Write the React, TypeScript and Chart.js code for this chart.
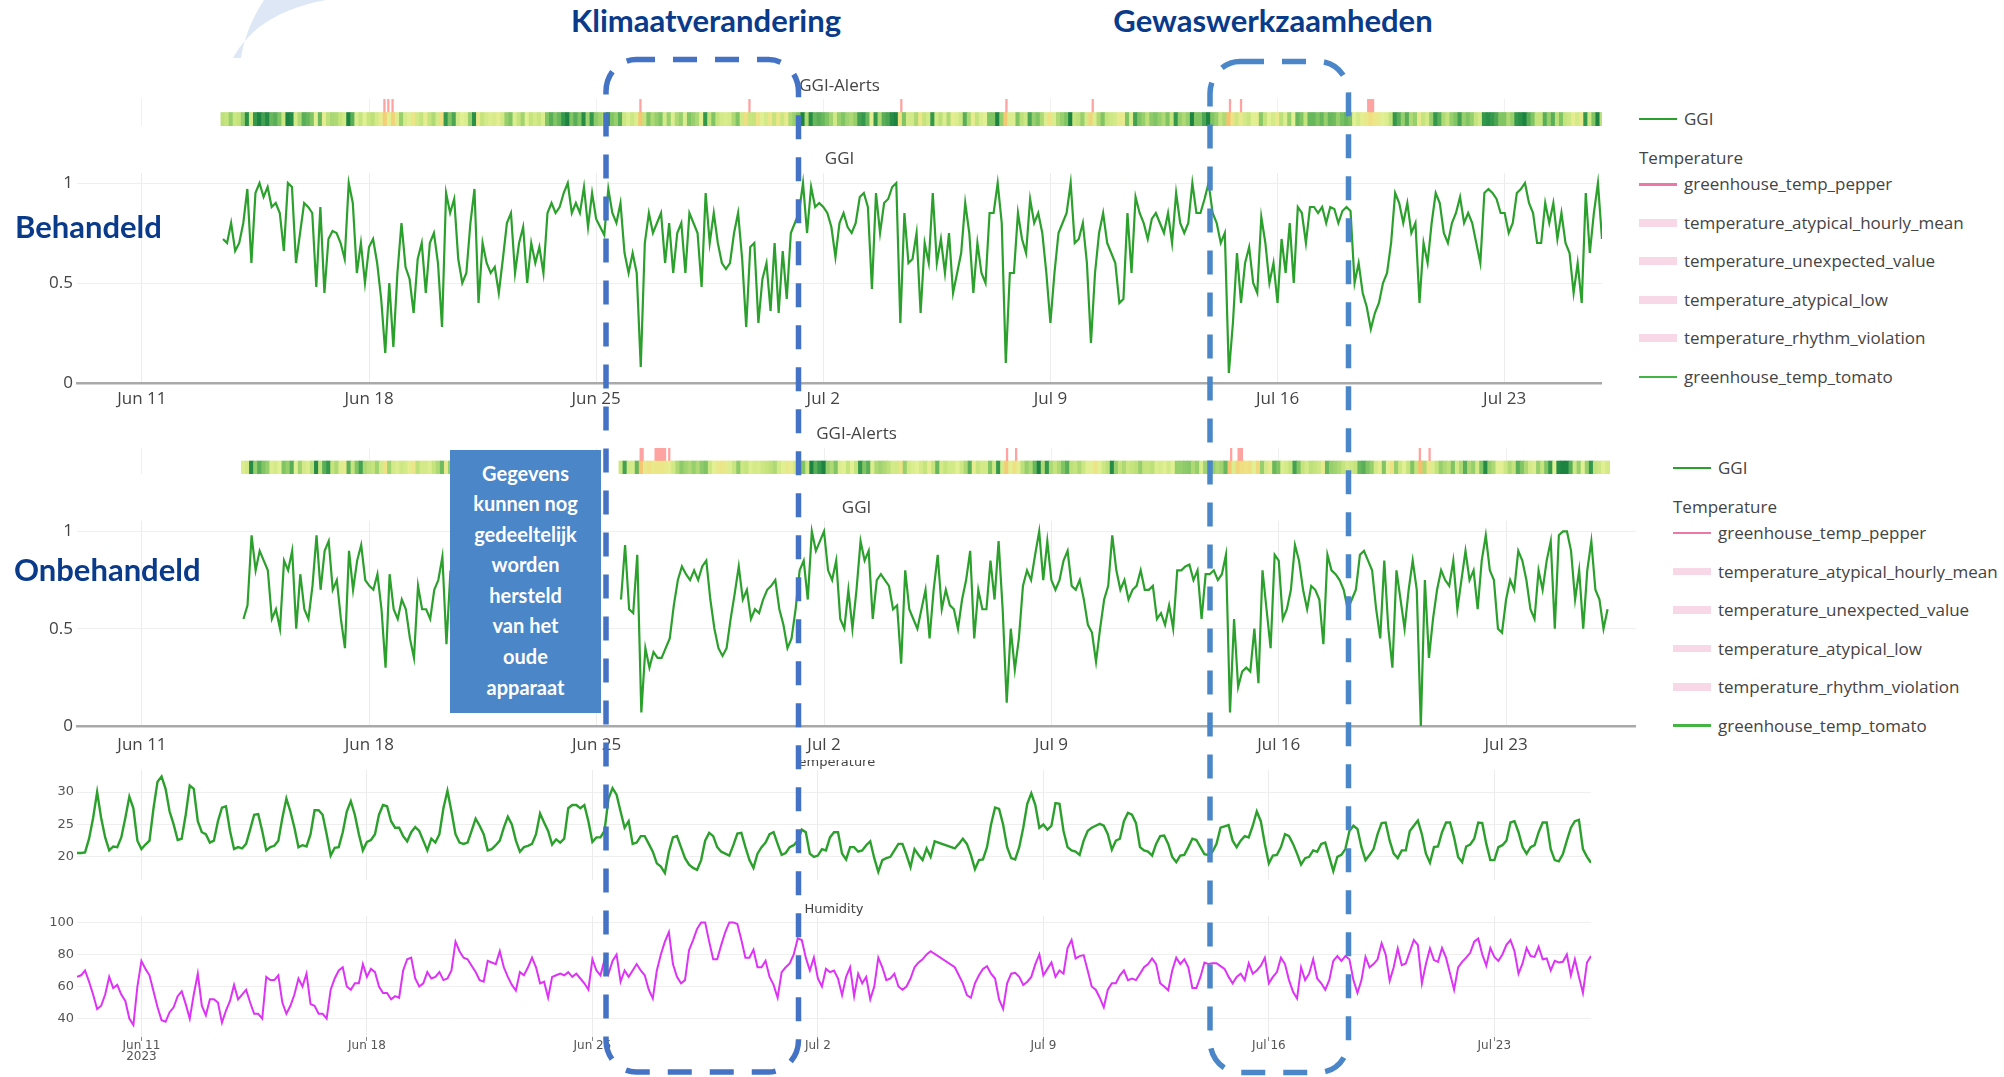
import React, { useEffect, useRef } from "react";
import { Chart, registerables } from "chart.js";

Chart.register(...registerables);

// ---------- axis definitions ----------
const STEP = 0.125; // 3 hours, expressed in days since Jun 11 2023 00:00
const TICK_DAYS = [0, 7, 14, 21, 28, 35, 42];
const TICK_LABELS = ["Jun 11", "Jun 18", "Jun 25", "Jul 2", "Jul 9", "Jul 16", "Jul 23"];
const YEAR_LABEL = "2023";
const GGI_TICKS = [0, 0.5, 1];
const GGI_TICK_LABELS = ["0", "0.5", "1"];
const TEMP_TICKS = [20, 25, 30];
const HUM_TICKS = [40, 60, 80, 100];

// ---------- GGI, treated greenhouse (Behandeld) ----------
const GGI_TOP_START = 2.5;
const GGI_TOP = [
  0.72, 0.7, 0.8, 0.66,
  0.7, 0.8, 0.97, 0.6, 0.95, 1.0, 0.93, 0.98,
  0.88, 0.9, 0.85, 0.66, 1.0, 0.98, 0.6, 0.75,
  0.9, 0.88, 0.85, 0.48, 0.88, 0.45, 0.72, 0.76,
  0.75, 0.7, 0.62, 1.0, 0.9, 0.55, 0.7, 0.5,
  0.68, 0.72, 0.6, 0.42, 0.15, 0.5, 0.18, 0.55,
  0.8, 0.58, 0.52, 0.35, 0.62, 0.7, 0.45, 0.7,
  0.75, 0.6, 0.28, 0.95, 0.85, 0.92, 0.62, 0.5,
  0.55, 0.8, 0.97, 0.4, 0.7, 0.6, 0.55, 0.58,
  0.45, 0.62, 0.8, 0.85, 0.55, 0.7, 0.78, 0.5,
  0.7, 0.6, 0.68, 0.55, 0.85, 0.9, 0.85, 0.88,
  0.95, 1.0, 0.85, 0.9, 0.85, 0.98, 0.78, 0.95,
  0.82, 0.78, 0.74, 0.97, 0.85, 0.8, 0.9, 0.65,
  0.55, 0.65, 0.55, 0.08, 0.7, 0.85, 0.75, 0.8,
  0.85, 0.6, 0.8, 0.55, 0.75, 0.8, 0.55, 0.85,
  0.8, 0.75, 0.48, 0.95, 0.7, 0.85, 0.7, 0.6,
  0.57, 0.6, 0.75, 0.85, 0.62, 0.28, 0.68, 0.7,
  0.3, 0.52, 0.6, 0.36, 0.7, 0.35, 0.66, 0.42,
  0.75, 0.8, 0.85, 1.0, 0.75, 0.98, 0.88, 0.9,
  0.88, 0.85, 0.78, 0.63, 0.8, 0.85, 0.78, 0.75,
  0.8, 0.93, 0.95, 0.88, 0.47, 0.95, 0.75, 0.9,
  0.92, 0.98, 1.0, 0.3, 0.85, 0.6, 0.62, 0.75,
  0.35, 0.7, 0.6, 0.95, 0.6, 0.72, 0.55, 0.75,
  0.45, 0.55, 0.65, 0.9, 0.75, 0.45, 0.7, 0.55,
  0.5, 0.85, 0.85, 1.0, 0.8, 0.1, 0.55, 0.55,
  0.85, 0.72, 0.65, 0.92, 0.8, 0.85, 0.75, 0.55,
  0.3, 0.55, 0.75, 0.8, 0.85, 1.0, 0.7, 0.72,
  0.8, 0.6, 0.2, 0.55, 0.75, 0.85, 0.7, 0.65,
  0.6, 0.4, 0.42, 0.85, 0.55, 0.93, 0.85, 0.8,
  0.72, 0.82, 0.85, 0.8, 0.75, 0.85, 0.7, 0.95,
  0.8, 0.75, 0.8, 1.0, 0.85, 0.85, 0.92, 1.0,
  0.85, 0.8, 0.7, 0.75, 0.05, 0.3, 0.65, 0.4,
  0.6, 0.68, 0.5, 0.45, 0.83, 0.7, 0.5, 0.6,
  0.4, 0.72, 0.55, 0.8, 0.5, 0.88, 0.85, 0.7,
  0.88, 0.88, 0.85, 0.88, 0.8, 0.88, 0.87, 0.8,
  0.86, 0.88, 0.86, 0.5, 0.6, 0.45, 0.38, 0.27,
  0.35, 0.4, 0.5, 0.55, 0.7, 0.95, 0.9, 0.8,
  0.9, 0.75, 0.8, 0.4, 0.7, 0.6, 0.8, 0.95,
  0.9, 0.75, 0.7, 0.8, 0.85, 0.93, 0.8, 0.85,
  0.8, 0.7, 0.6, 0.95, 0.97, 0.95, 0.92, 0.85,
  0.85, 0.75, 0.8, 0.95, 0.97, 1.0, 0.9, 0.85,
  0.7, 0.7, 0.9, 0.8, 0.9, 0.72, 0.85, 0.7,
  0.65, 0.45, 0.6, 0.4, 0.95, 0.65, 0.85, 1.0,
  0.72,
];

// ---------- GGI, untreated greenhouse (Onbehandeld), two recorded segments ----------
const GGI_BOT_A_START = 3.125;
const GGI_BOT_A = [
  0.55, 0.62, 0.98, 0.8, 0.9, 0.85, 0.8,
  0.55, 0.6, 0.5, 0.85, 0.8, 0.9, 0.5, 0.78,
  0.6, 0.55, 0.72, 0.98, 0.7, 0.9, 0.95, 0.7,
  0.75, 0.55, 0.4, 0.9, 0.7, 0.85, 0.93, 0.75,
  0.72, 0.7, 0.78, 0.6, 0.3, 0.78, 0.6, 0.55,
  0.65, 0.6, 0.45, 0.35, 0.72, 0.6, 0.6, 0.55,
  0.7, 0.75, 0.87, 0.42, 0.8,
];
const GGI_BOT_B_START = 14.75;
const GGI_BOT_B = [
  0.65, 0.93,
  0.6, 0.58, 0.88, 0.07, 0.4, 0.3, 0.38, 0.35,
  0.35, 0.4, 0.45, 0.62, 0.75, 0.82, 0.78, 0.75,
  0.8, 0.75, 0.82, 0.85, 0.65, 0.5, 0.4, 0.36,
  0.4, 0.55, 0.68, 0.82, 0.65, 0.7, 0.55, 0.6,
  0.58, 0.65, 0.7, 0.72, 0.75, 0.6, 0.52, 0.4,
  0.45, 0.6, 0.8, 0.85, 0.65, 1.0, 0.9, 0.95,
  1.0, 0.8, 0.75, 0.85, 0.55, 0.5, 0.7, 0.5,
  0.7, 0.95, 0.85, 0.9, 0.55, 0.75, 0.78, 0.75,
  0.72, 0.6, 0.62, 0.32, 0.8, 0.6, 0.55, 0.5,
  0.6, 0.7, 0.45, 0.7, 0.88, 0.6, 0.7, 0.62,
  0.6, 0.5, 0.65, 0.75, 0.9, 0.45, 0.7, 0.6,
  0.6, 0.85, 0.65, 0.95, 0.6, 0.12, 0.5, 0.29,
  0.45, 0.72, 0.8, 0.75, 0.88, 1.0, 0.75, 0.95,
  0.75, 0.7, 0.75, 0.85, 0.9, 0.72, 0.7, 0.75,
  0.65, 0.52, 0.48, 0.33, 0.5, 0.65, 0.72, 0.98,
  0.8, 0.7, 0.75, 0.65, 0.7, 0.72, 0.8, 0.7,
  0.7, 0.72, 0.55, 0.58, 0.52, 0.62, 0.5, 0.8,
  0.8, 0.82, 0.83, 0.75, 0.8, 0.55, 0.78, 0.78,
  0.8, 0.75, 0.78, 0.88, 0.07, 0.55, 0.2, 0.28,
  0.3, 0.28, 0.5, 0.22, 0.8, 0.6, 0.4, 0.88,
  0.85, 0.55, 0.6, 0.7, 0.93, 0.85, 0.7, 0.6,
  0.72, 0.7, 0.65, 0.42, 0.88, 0.8, 0.78, 0.75,
  0.7, 0.6, 0.65, 0.7, 0.88, 0.9, 0.85, 0.8,
  0.6, 0.45, 0.85, 0.5, 0.3, 0.8, 0.65, 0.5,
  0.7, 0.85, 0.7, 0.0, 0.75, 0.35, 0.55, 0.7,
  0.8, 0.75, 0.72, 0.85, 0.6, 0.75, 0.9, 0.75,
  0.8, 0.6, 0.85, 0.98, 0.8, 0.75, 0.5, 0.48,
  0.65, 0.75, 0.7, 0.9, 0.85, 0.75, 0.6, 0.55,
  0.8, 0.7, 0.85, 0.95, 0.5, 0.98, 1.0, 1.0,
  0.9, 0.65, 0.8, 0.5, 0.8, 0.95, 0.7, 0.65,
  0.5, 0.6,
];

// ---------- climate ----------
const CLIMATE_START = -2;
const TEMPERATURE = [
  20.6, 20.6, 20.7, 22.8, 26.0, 30.0, 26.0, 23.0,
  21.0, 21.6, 21.5, 23.0, 26.0, 29.3, 27.5, 22.5,
  21.2, 21.9, 22.5, 27.5, 31.6, 32.4, 30.5, 27.0,
  25.0, 22.6, 22.8, 26.5, 31.0, 30.5, 25.5, 23.8,
  23.5, 22.2, 22.5, 25.5, 27.6, 27.8, 24.0, 21.2,
  21.5, 21.3, 22.0, 24.2, 26.5, 26.6, 24.0, 21.0,
  21.5, 21.7, 22.5, 26.0, 29.0, 27.0, 24.5, 21.5,
  21.8, 21.6, 23.5, 27.2, 27.2, 26.5, 23.5, 20.2,
  21.4, 21.5, 23.8, 27.0, 28.6, 26.5, 23.5, 21.0,
  22.3, 22.6, 23.5, 26.5, 28.0, 27.8, 25.5, 24.5,
  24.5, 23.2, 22.4, 23.8, 24.6, 24.0, 22.5, 21.0,
  22.8, 22.2, 23.5, 27.5, 30.2, 27.0, 23.5, 22.2,
  22.0, 22.2, 24.0, 25.9, 24.8, 23.5, 21.0, 21.2,
  21.8, 22.5, 24.5, 26.2, 25.0, 22.5, 20.8, 21.5,
  21.7, 22.0, 23.5, 26.7, 25.3, 24.0, 21.9, 22.7,
  22.2, 22.8, 27.5, 28.0, 28.0, 27.5, 28.0, 25.5,
  22.3, 23.0, 23.0, 24.0, 29.0, 30.6, 29.6, 27.0,
  24.5, 25.5, 22.0, 22.2, 23.2, 23.2, 22.0, 20.8,
  19.0, 18.5, 17.5, 20.8, 23.0, 23.2, 21.5, 19.8,
  18.8, 18.3, 18.0, 19.5, 22.5, 23.7, 23.2, 21.5,
  20.8, 20.5, 20.2, 21.8, 23.6, 23.7, 21.5, 19.5,
  18.3, 20.5, 21.5, 22.2, 23.5, 23.8, 22.0, 20.3,
  20.6, 21.5, 21.8, 22.5, 24.2, 23.8, 20.5, 20.0,
  20.2, 21.2, 21.0, 23.0, 23.8, 23.8, 20.5, 19.6,
  21.5, 21.5, 20.8, 21.0, 21.8, 22.4, 19.8, 17.7,
  19.5, 19.8, 20.0, 21.0, 22.0, 22.0, 20.3, 18.4,
  21.2, 20.3, 19.5, 21.3, 20.0, 22.4, null, null,
  null, null, 21.3, 22.0, 22.8, 22.0, 20.3, 18.1,
  19.5, 19.6, 21.5, 25.0, 27.6, 27.4, 25.0, 21.5,
  19.8, 19.6, 21.5, 24.5, 28.2, 29.8, 28.0, 24.5,
  25.0, 24.2, 24.8, 28.3, 28.2, 24.0, 21.5, 21.0,
  20.8, 20.3, 22.5, 24.0, 24.5, 24.8, 25.1, 24.8,
  23.5, 21.1, 22.5, 22.8, 25.5, 26.8, 26.5, 25.2,
  21.5, 21.0, 20.8, 20.2, 22.0, 23.2, 23.3, 22.0,
  20.0, 19.2, 20.2, 20.3, 21.5, 22.8, 22.6, 21.5,
  20.4, 20.3, 20.8, 22.0, 24.5, 24.7, 24.9, 22.5,
  21.5, 22.5, 23.2, 23.0, 24.8, 27.0, 25.5, 22.0,
  19.0, 20.2, 20.3, 21.5, 23.5, 23.2, 22.0, 20.5,
  18.8, 19.8, 20.0, 21.0, 20.8, 22.0, 22.2, 20.0,
  17.8, 20.0, 20.3, 21.2, 24.0, 24.8, 24.3, 21.5,
  19.5, 20.3, 21.2, 23.5, 25.2, 25.3, 22.5, 20.5,
  19.8, 21.0, 21.0, 24.0, 24.8, 25.6, 23.5, 20.5,
  19.1, 21.5, 21.6, 23.8, 25.3, 25.3, 23.0, 20.0,
  19.2, 21.6, 21.9, 22.8, 25.3, 25.2, 22.0, 19.5,
  19.5, 21.5, 21.8, 22.5, 25.3, 25.5, 23.8, 21.5,
  20.5, 21.5, 21.8, 23.8, 25.3, 25.3, 21.2, 19.5,
  19.3, 20.4, 22.5, 24.5, 25.5, 25.7, 21.2, 20.0,
  19.1,
];
const HUMIDITY = [
  66, 67, 70, 63, 55, 46, 48, 55,
  66, 59, 61, 55, 51, 40, 36, 60,
  76, 71, 67, 57, 47, 39, 38, 44,
  47, 54, 57, 49, 40, 55, 68, 48,
  42, 52, 52, 50, 37.5, 45, 51, 61,
  52, 55, 58, 50, 43, 43, 40, 66,
  64, 64, 67, 50, 43, 48, 55, 65,
  60, 68, 49, 48, 43, 43, 40, 58,
  65, 70, 72, 60, 58, 62, 62, 74,
  66, 71, 69, 60, 56, 56, 52, 54,
  53, 70, 77, 78, 65, 60, 62, 69,
  65, 66, 69, 64, 65, 70, 88, 82,
  78, 77, 73, 69, 64, 63, 76, 75,
  74, 82, 72, 66, 61, 57.5, 69, 67,
  72, 78, 72, 62, 63, 53, 66, 67,
  68, 67, 69, 66, 68, 65, 62, 58,
  77, 70, 67, 76.5, 68, 76, 80, 63,
  70, 66, 70, 74, 70, 67, 58, 52.5,
  70, 80, 88, 94, 74, 66, 62, 64,
  82.7, 89, 96, 100, 100, 88, 77, 77,
  86, 94, 100, 100, 99, 89, 78, 78,
  83, 72, 72, 76, 66, 61, 53, 69,
  72, 74.4, 80, 90, 89, 78, 70, 78,
  65, 60, 71, 69, 70, 65, 54.6, 66,
  72, 54, 68, 62, 66, 52, 60, 78,
  72, 64, 65, 68, 60, 58, 60, 65,
  72, 75, 77, 80, 82, null, null, null,
  null, null, 72, 67, 62, 54.6, 53, 62,
  67, 71, 72.7, 68, 65, 52, 46, 62,
  68, 68.5, 66, 61, 63, 66, 74, 80,
  67, 71, 75, 66, 70, 68, 84, 89,
  77.5, 79, 79.6, 70, 60, 58, 53, 47,
  58, 62, 62, 67, 70, 64, 65, 64,
  68, 72, 74, 77.5, 74, 62, 60, 57.7,
  70, 78, 74, 77, 72, 59, 59, 66,
  75, 74, 74.5, 74.5, 72.7, 71, 66, 62,
  66, 68, 64, 74.5, 68, 70, 73, 78,
  62, 66, 69, 78, 74, 64, 56.7, 52.5,
  72, 64, 68, 77, 65, 62, 58, 64,
  76, 79, 76, 79, 77, 64, 56, 64,
  78.5, 72, 74, 77, 87, 80, 63.5, 72,
  83.75, 73.3, 74.4, 81.7, 89, 86, 62, 74,
  83.75, 76.5, 75.4, 84, 78, 68, 58, 72,
  75.4, 78, 81, 88, 90, 80, 73, 84,
  78.5, 76, 80, 86, 89, 82, 68, 74.4,
  84, 79, 78.5, 84.8, 77, 77.5, 70, 76,
  75, 75.4, 80, 67, 77, 66, 56, 75,
  79,
];

// ---------- alerts (day ranges) ----------
const ALERT_TOP_START = [7.45, 7.57, 7.7, 15.34, 18.7, 23.38, 26.62, 29.28, 33.51, 33.85, 37.77];
const ALERT_TOP_END = [7.5, 7.62, 7.75, 15.39, 18.75, 23.43, 26.67, 29.33, 33.56, 33.9, 37.97];
const ALERT_BOT_START = [15.33, 15.79, 16.21, 26.61, 26.89, 33.51, 33.74, 39.32, 39.62];
const ALERT_BOT_END = [15.44, 16.13, 16.26, 26.66, 26.94, 33.56, 33.89, 39.37, 39.67];

// ---------- legend ----------
const LEGEND_MAIN = "GGI";
const LEGEND_GROUP = "Temperature";
const LEGEND_ITEMS = [
  "greenhouse_temp_pepper",
  "temperature_atypical_hourly_mean",
  "temperature_unexpected_value",
  "temperature_atypical_low",
  "temperature_rhythm_violation",
  "greenhouse_temp_tomato",
];
const LEGEND_KINDS = ["line", "rect", "rect", "rect", "rect", "line"];
const LEGEND_COLORS = ["#ec78a8", "#f8d7e6", "#f8d7e6", "#f8d7e6", "#f8d7e6", "#44b444"];

const BOX_LINES = ["Gegevens", "kunnen nog", "gedeeltelijk", "worden", "hersteld", "van het", "oude", "apparaat"];

// ---------- styling ----------
const GGI_COLOR = "#2ca02c";
const TEMP_COLOR = "#2ca02c";
const HUM_COLOR = "#dd33f5";
const NAVY = "#0a3a8a";
const F_MAIN = "'Open Sans', 'DejaVu Sans', sans-serif";
const F_SMALL = "'DejaVu Sans', sans-serif";
const STRIP_VALUES = [0, 0.3, 0.5, 0.7, 0.85, 0.95, 1];
const STRIP_RGB = [
  [248, 188, 108],
  [238, 226, 132],
  [226, 240, 148],
  [198, 228, 126],
  [128, 196, 100],
  [52, 152, 76],
  [28, 132, 64],
];

function stripColor(v: number) {
  for (let i = 1; i < STRIP_VALUES.length; i++) {
    if (v <= STRIP_VALUES[i]) {
      const f = (v - STRIP_VALUES[i - 1]) / (STRIP_VALUES[i] - STRIP_VALUES[i - 1]);
      const c = STRIP_RGB[i - 1].map((a, k) => Math.round(a + (STRIP_RGB[i][k] - a) * f));
      return `rgb(${c.join(",")})`;
    }
  }
  const l = STRIP_RGB[STRIP_RGB.length - 1];
  return `rgb(${l.join(",")})`;
}

const points = (start: number, values: (number | null)[]) =>
  values.map((v, i) => ({ x: start + i * STEP, y: v }));

function dayAxis(min: number, max: number, o: any) {
  return {
    type: "linear",
    min,
    max,
    afterBuildTicks: (s: any) => {
      s.ticks = TICK_DAYS.map((v) => ({ value: v }));
    },
    afterFit: (s: any) => {
      s.height = o.height;
    },
    ticks: {
      display: o.labels,
      autoSkip: false,
      maxRotation: 0,
      padding: o.pad || 0,
      color: o.small ? "#555" : "#444",
      font: o.small
        ? { family: F_SMALL, size: 12, lineHeight: 0.86 }
        : { family: F_MAIN, size: 17 },
      callback: (_v: any, i: number) =>
        o.year && i === 0 ? [TICK_LABELS[i], YEAR_LABEL] : TICK_LABELS[i],
    },
    grid: {
      color: "#ececec",
      lineWidth: 1,
      drawTicks: !!o.tickMarks,
      tickLength: 4,
      tickColor: "#888",
    },
    border: o.border ? { display: true, color: "#a9a9a9", width: 2.5 } : { display: false },
  };
}

function valueAxis(min: number, max: number, ticks: number[], labels: string[] | null, small: boolean) {
  return {
    type: "linear",
    min,
    max,
    afterBuildTicks: (s: any) => {
      s.ticks = ticks.map((v) => ({ value: v }));
    },
    afterFit: (s: any) => {
      s.width = 77;
    },
    ticks: {
      padding: small ? 3 : 4,
      color: small ? "#555" : "#444",
      font: small ? { family: F_SMALL, size: 13 } : { family: F_MAIN, size: 17 },
      callback: (v: any, i: number) => (labels ? labels[i] : String(v)),
    },
    grid: { color: "#efefef", lineWidth: 1, drawTicks: false },
    border: { display: false },
  };
}

function titleOpts(text: string, size: number, lh: number, top: number, bottom: number, small: boolean) {
  return {
    display: true,
    text,
    fullSize: false,
    color: "#444",
    font: { family: small ? F_SMALL : F_MAIN, size, weight: "normal", lineHeight: lh },
    padding: { top, bottom },
  };
}

function lineConfig(datasets: any[], x: any, y: any, title: any) {
  return {
    type: "line",
    data: { datasets },
    options: {
      animation: false,
      responsive: false,
      events: [],
      layout: { padding: 0, autoPadding: false },
      plugins: { legend: { display: false }, tooltip: { enabled: false }, title },
      scales: { x, y },
      elements: { point: { radius: 0 }, line: { tension: 0 } },
    },
  };
}

function lineSet(data: any[], color: string, width: number, spanGaps = false) {
  return { data, borderColor: color, borderWidth: width, pointRadius: 0, fill: false, spanGaps };
}

function stripConfig(segments: { start: number; values: number[] }[], aS: number[], aE: number[], xMin: number, xMax: number, title: any) {
  const cells: any[] = [];
  const colors: string[] = [];
  segments.forEach((seg) => {
    seg.values.forEach((v, i) => {
      const c = seg.start + i * STEP;
      cells.push({ x: [c - STEP / 2 - 0.004, c + STEP / 2 + 0.004], y: "strip" });
      colors.push(stripColor(v));
    });
  });
  const over = aS.map((s, i) => ({ x: [s, aE[i]], y: "strip" }));
  const marks = aS.map((s, i) => ({ x: [s, aE[i]], y: "alert" }));
  const common = { grouped: false, barPercentage: 1, categoryPercentage: 1, borderWidth: 0 };
  return {
    type: "bar",
    data: {
      labels: ["alert", "strip"],
      datasets: [
        { ...common, data: cells, backgroundColor: colors },
        { ...common, data: over, backgroundColor: "rgba(255,92,70,0.5)" },
        { ...common, data: marks, backgroundColor: "#ffa2a2" },
      ],
    },
    options: {
      indexAxis: "y",
      animation: false,
      responsive: false,
      events: [],
      layout: { padding: 0, autoPadding: false },
      plugins: { legend: { display: false }, tooltip: { enabled: false }, title },
      scales: {
        x: {
          type: "linear",
          min: xMin,
          max: xMax,
          afterBuildTicks: (s: any) => {
            s.ticks = TICK_DAYS.map((v) => ({ value: v }));
          },
          afterFit: (s: any) => {
            s.height = 0;
          },
          ticks: { display: false },
          grid: { color: "#f0f0f0", drawTicks: false },
          border: { display: false },
        },
        y: { type: "category", display: false, offset: true },
      },
    },
  };
}

function ChartCanvas({ left, top, width, height, make }: any) {
  const ref = useRef<HTMLCanvasElement>(null);
  useEffect(() => {
    const chart = new Chart(ref.current as HTMLCanvasElement, make());
    return () => chart.destroy();
  }, []);
  return (
    <canvas
      ref={ref}
      width={width}
      height={height}
      style={{ position: "absolute", left, top, width, height }}
    />
  );
}

function Legend({ x, y }: { x: number; y: number }) {
  const text: React.CSSProperties = {
    position: "absolute",
    fontFamily: F_MAIN,
    fontSize: 17,
    color: "#444",
    lineHeight: "24px",
    whiteSpace: "nowrap",
  };
  const rows = LEGEND_ITEMS.map((name, k) => ({ name, cy: y + 65.3 + k * 38.5, kind: LEGEND_KINDS[k], color: LEGEND_COLORS[k] }));
  const symbol = (cy: number, kind: string, color: string, key: string) => {
    const h = kind === "line" ? 2.5 : 7.7;
    return <div key={key} style={{ position: "absolute", left: x, top: cy - h / 2, width: 38, height: h, background: color }} />;
  };
  return (
    <>
      {symbol(y, "line", GGI_COLOR, "gs")}
      <div style={{ ...text, left: x + 45, top: y - 12 }}>{LEGEND_MAIN}</div>
      <div style={{ ...text, left: x, top: y + 39.3 - 12 }}>{LEGEND_GROUP}</div>
      {rows.map((r, k) => (
        <React.Fragment key={k}>
          {symbol(r.cy, r.kind, r.color, "s" + k)}
          <div style={{ ...text, left: x + 45, top: r.cy - 12 }}>{r.name}</div>
        </React.Fragment>
      ))}
    </>
  );
}

export default function App() {
  const heading: React.CSSProperties = {
    position: "absolute",
    fontFamily: "Lato, 'Open Sans', sans-serif",
    fontWeight: 700,
    fontSize: 31,
    lineHeight: "31px",
    color: NAVY,
    whiteSpace: "nowrap",
  };
  return (
    <div style={{ position: "absolute", left: 0, top: 0, width: 2004, height: 1077, background: "#fff", overflow: "hidden" }}>
      {/* top panel: alerts strip */}
      <ChartCanvas
        left={77}
        top={74}
        width={1525}
        height={52}
        make={() =>
          stripConfig([{ start: GGI_TOP_START, values: GGI_TOP }], ALERT_TOP_START, ALERT_TOP_END, -2, 45,
            titleOpts("GGI-Alerts", 17, 1.2, 2, 2.6, false))
        }
      />
      {/* top panel: GGI line */}
      <ChartCanvas
        left={0}
        top={140}
        width={1602}
        height={273}
        make={() =>
          lineConfig(
            [lineSet(points(GGI_TOP_START, GGI_TOP), GGI_COLOR, 2.2)],
            dayAxis(-2, 45, { labels: true, height: 30, pad: 6, border: true }),
            valueAxis(0, 1.05, GGI_TICKS, GGI_TICK_LABELS, false),
            titleOpts("GGI", 17, 1.2, 9, 3.6, false)
          )
        }
      />
      {/* bottom panel: alerts strip */}
      <ChartCanvas
        left={77}
        top={422}
        width={1559}
        height={52}
        make={() =>
          stripConfig(
            [
              { start: GGI_BOT_A_START, values: GGI_BOT_A },
              { start: GGI_BOT_B_START, values: GGI_BOT_B },
            ],
            ALERT_BOT_START, ALERT_BOT_END, -2, 46,
            titleOpts("GGI-Alerts", 17, 1.2, 2.3, 3.3, false))
        }
      />
      {/* bottom panel: GGI line */}
      <ChartCanvas
        left={0}
        top={490}
        width={1636}
        height={266}
        make={() =>
          lineConfig(
            [
              lineSet(points(GGI_BOT_A_START, GGI_BOT_A), GGI_COLOR, 2.2),
              lineSet(points(GGI_BOT_B_START, GGI_BOT_B), GGI_COLOR, 2.2),
            ],
            dayAxis(-2, 46, { labels: true, height: 30, pad: 9, border: true }),
            valueAxis(0, 1.055, GGI_TICKS, GGI_TICK_LABELS, false),
            titleOpts("GGI", 17, 1.2, 7.8, 2.5, false)
          )
        }
      />
      {/* temperature (title partly cut at the top as in the source) */}
      <div style={{ position: "absolute", left: 0, top: 760, width: 1591, height: 131, overflow: "hidden" }}>
        <ChartCanvas
          left={0}
          top={-10}
          width={1591}
          height={141}
          make={() =>
            lineConfig(
              [lineSet(points(CLIMATE_START, TEMPERATURE), TEMP_COLOR, 2.4, true)],
              dayAxis(-2, 45, { labels: false, height: 0, border: false }),
              valueAxis(16.4, 33.4, TEMP_TICKS, null, true),
              titleOpts("Temperature", 13, 1, 6, 1, true)
            )
          }
        />
      </div>
      {/* humidity */}
      <ChartCanvas
        left={0}
        top={890}
        width={1591}
        height={187}
        make={() =>
          lineConfig(
            [lineSet(points(CLIMATE_START, HUMIDITY), HUM_COLOR, 2, true)],
            dayAxis(-2, 45, { labels: true, height: 40, pad: 0, border: false, small: true, year: true, tickMarks: true }),
            valueAxis(28.5, 104, HUM_TICKS, null, true),
            titleOpts("Humidity", 13, 1, 13, 0, true)
          )
        }
      />

      <Legend x={1639} y={119} />
      <Legend x={1673} y={467.8} />

      <div style={{ ...heading, left: 706, top: 4.5, transform: "translateX(-50%)" }}>Klimaatverandering</div>
      <div style={{ ...heading, left: 1273, top: 4.5, transform: "translateX(-50%)" }}>Gewaswerkzaamheden</div>
      <div style={{ ...heading, left: 15, top: 211 }}>Behandeld</div>
      <div style={{ ...heading, left: 14, top: 554 }}>Onbehandeld</div>

      <div
        style={{
          position: "absolute",
          left: 450,
          top: 450,
          width: 151,
          height: 263,
          background: "#4a86c8",
          color: "#fff",
          fontFamily: "Lato, 'Open Sans', sans-serif",
          fontWeight: 700,
          fontSize: 20,
          lineHeight: "30.6px",
          textAlign: "center",
          paddingTop: 7.5,
          boxSizing: "border-box",
          zIndex: 5,
        }}
      >
        {BOX_LINES.map((l, i) => (
          <div key={i}>{l}</div>
        ))}
      </div>

      <svg
        width={2004}
        height={1077}
        style={{ position: "absolute", left: 0, top: 0, zIndex: 10, pointerEvents: "none" }}
      >
        <path d="M 233 58 C 246 34, 272 10, 326 0 L 264 0 C 252 18, 244 38, 241 58 Z" fill="#dde7f5" />
        <rect x={606} y={59.5} width={192.5} height={1012.5} rx={30} ry={32} fill="none" stroke="#4472c4" strokeWidth={5.5} strokeDasharray="24 18" strokeDashoffset={5} />
        <rect x={1210} y={61.5} width={138.5} height={1011} rx={30} ry={32} fill="none" stroke="#4a86c8" strokeWidth={5.5} strokeDasharray="24 18" strokeDashoffset={0} />
      </svg>
    </div>
  );
}
